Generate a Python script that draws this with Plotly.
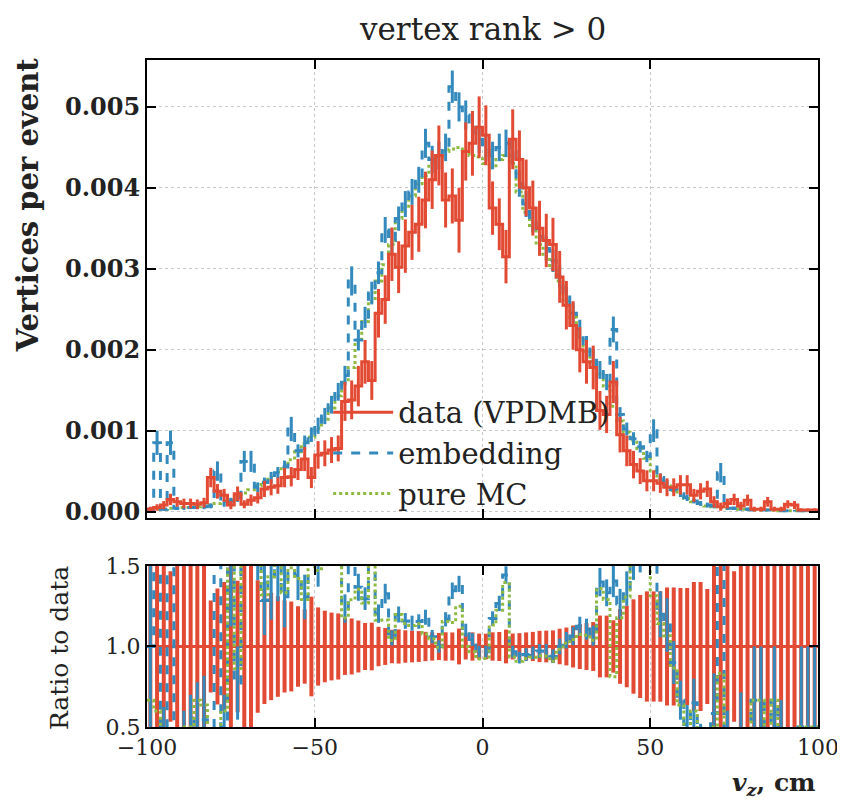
import numpy as np
import plotly.graph_objects as go

# ---------------- data (values in units of 1e-3 vertices per event) ----------------
bin_edges = np.arange(-100, 101, 2)          # v_z bin edges, cm
bin_centers = (bin_edges[:-1] + bin_edges[1:]) / 2

data_vpdmb = [
    0.03, 0.05, 0.08, 0.15, 0.12, 0.10, 0.10, 0.09, 0.11, 0.42,
    0.25, 0.20, 0.08, 0.22, 0.09, 0.14, 0.17, 0.28, 0.30, 0.32,
    0.42, 0.43, 0.52, 0.65, 0.42, 0.70, 0.72, 0.76, 0.78, 1.36,
    1.38, 1.55, 1.85, 1.62, 2.45, 2.62, 3.18, 3.02, 3.28, 3.45,
    3.55, 3.85, 4.10, 4.40, 3.85, 3.90, 3.60, 4.45, 4.55, 4.75,
    4.65, 3.75, 3.55, 3.15, 4.60, 4.35, 4.00, 3.75, 3.50, 3.35,
    3.30, 2.90, 2.55, 2.30, 2.00, 1.85, 1.78, 1.25, 1.20, 1.60,
    0.95, 0.75, 0.58, 0.50, 0.38, 0.38, 0.35, 0.30, 0.30, 0.33,
    0.33, 0.20, 0.25, 0.28, 0.12, 0.06, 0.10, 0.15, 0.07, 0.14,
    0.03, 0.03, 0.12, 0.03, 0.03, 0.09, 0.08, 0.02, 0.02, 0.02,
]
data_err = [
    0.03, 0.04, 0.05, 0.07, 0.06, 0.06, 0.06, 0.06, 0.06, 0.12,
    0.09, 0.08, 0.05, 0.09, 0.05, 0.07, 0.07, 0.10, 0.10, 0.10,
    0.12, 0.12, 0.13, 0.15, 0.13, 0.17, 0.16, 0.16, 0.16, 0.24,
    0.24, 0.25, 0.27, 0.24, 0.30, 0.30, 0.33, 0.32, 0.33, 0.34,
    0.34, 0.35, 0.36, 0.37, 0.34, 0.34, 0.40, 0.36, 0.40, 0.38,
    0.37, 0.33, 0.32, 0.33, 0.37, 0.36, 0.35, 0.34, 0.34, 0.33,
    0.33, 0.32, 0.30, 0.30, 0.28, 0.27, 0.27, 0.24, 0.23, 0.26,
    0.22, 0.19, 0.17, 0.16, 0.13, 0.13, 0.12, 0.11, 0.11, 0.12,
    0.12, 0.08, 0.10, 0.10, 0.07, 0.05, 0.06, 0.07, 0.05, 0.07,
    0.03, 0.03, 0.06, 0.03, 0.03, 0.05, 0.05, 0.02, 0.02, 0.02,
]
embedding = [
    0.03, 0.85, 0.03, 0.85, 0.04, 0.04, 0.05, 0.05, 0.06, 0.07,
    0.50, 0.10, 0.13, 0.17, 0.62, 0.62, 0.30, 0.36, 0.42, 0.48,
    0.55, 1.02, 0.75, 0.85, 0.95, 1.06, 1.18, 1.32, 1.48, 1.68,
    2.85, 2.12, 2.40, 2.70, 2.95, 3.48, 3.35, 3.62, 3.80, 3.95,
    4.10, 4.55, 4.35, 4.40, 4.50, 5.25, 5.00, 4.90, 4.75, 4.60,
    4.50, 4.40, 4.50, 4.55, 4.45, 4.05, 3.80, 3.60, 3.40, 3.25,
    3.10, 2.90, 2.65, 2.45, 2.25, 2.05, 1.90, 1.75, 1.60, 2.25,
    1.20, 1.02, 0.90, 0.80, 0.68, 1.00, 0.42, 0.34, 0.27, 0.22,
    0.17, 0.13, 0.10, 0.08, 0.07, 0.48, 0.04, 0.04, 0.03, 0.03,
    0.02, 0.02, 0.02, 0.02, 0.01, 0.01, 0.01, 0.01, 0.01, 0.01,
]
embedding_err = [
    0.02, 0.15, 0.02, 0.15, 0.02, 0.02, 0.02, 0.02, 0.03, 0.03,
    0.12, 0.04, 0.04, 0.05, 0.13, 0.13, 0.06, 0.06, 0.07, 0.07,
    0.08, 0.15, 0.08, 0.09, 0.09, 0.10, 0.10, 0.11, 0.11, 0.12,
    0.18, 0.13, 0.13, 0.14, 0.14, 0.16, 0.15, 0.15, 0.16, 0.16,
    0.16, 0.18, 0.17, 0.17, 0.17, 0.20, 0.18, 0.18, 0.18, 0.17,
    0.17, 0.17, 0.17, 0.17, 0.17, 0.16, 0.16, 0.15, 0.15, 0.15,
    0.14, 0.14, 0.13, 0.13, 0.12, 0.12, 0.11, 0.11, 0.10, 0.16,
    0.09, 0.08, 0.08, 0.07, 0.07, 0.14, 0.05, 0.05, 0.04, 0.04,
    0.04, 0.03, 0.03, 0.03, 0.03, 0.12, 0.02, 0.02, 0.02, 0.02,
    0.01, 0.01, 0.01, 0.01, 0.01, 0.01, 0.01, 0.01, 0.01, 0.01,
]
pure_mc = [
    0.02, 0.03, 0.03, 0.04, 0.04, 0.05, 0.05, 0.06, 0.07, 0.08,
    0.10, 0.12, 0.15, 0.19, 0.23, 0.27, 0.32, 0.37, 0.43, 0.49,
    0.56, 0.64, 0.74, 0.84, 0.92, 1.03, 1.14, 1.28, 1.43, 1.60,
    1.78, 2.10, 2.35, 2.60, 2.85, 3.05, 3.30, 3.62, 3.75, 3.90,
    4.05, 4.15, 4.30, 4.38, 4.45, 4.48, 4.50, 4.45, 4.40, 4.38,
    4.30, 4.25, 4.35, 4.40, 4.30, 3.95, 3.70, 3.50, 3.30, 3.15,
    3.00, 2.85, 2.60, 2.40, 2.15, 1.98, 1.85, 1.70, 1.55, 1.30,
    1.12, 0.98, 0.88, 0.78, 0.66, 0.50, 0.40, 0.32, 0.26, 0.21,
    0.16, 0.12, 0.09, 0.07, 0.06, 0.05, 0.04, 0.04, 0.03, 0.03,
    0.02, 0.02, 0.02, 0.02, 0.01, 0.01, 0.01, 0.01, 0.01, 0.01,
]

y_ticks = [0.000, 0.001, 0.002, 0.003, 0.004, 0.005]
ratio_ticks = [0.5, 1.0, 1.5]
x_ticks = [-100, -50, 0, 50, 100]

# ---------------- derived ----------------
SCALE = 1e-3
d = np.array(data_vpdmb) * SCALE
de = np.array(data_err) * SCALE
e = np.array(embedding) * SCALE
ee = np.array(embedding_err) * SCALE
m = np.array(pure_mc) * SCALE

r_emb = e / d
r_emb_err = ee / d
r_mc = m / d
r_data_err = de / d

RED = "#E24A33"
BLUE = "#348ABD"
GREEN = "#8EBA42"
FONT = "DejaVu Serif"
TXT = "#222222"


def step_xy(vals):
    return list(bin_edges), list(vals) + [vals[-1]]


fig = go.Figure()

# ---- top panel ----
for vals, errs, col, dash, name, rank in [
    (m, None, GREEN, "dot", "pure MC", 3),
    (e, ee, BLUE, "dash", "embedding", 2),
    (d, de, RED, "solid", "data (VPDMB)", 1),
]:
    sx, sy = step_xy(vals)
    fig.add_trace(go.Scatter(
        x=sx, y=sy, mode="lines", line=dict(color=col, width=3, dash=dash, shape="hv"),
        name=name, legendrank=rank, xaxis="x", yaxis="y"))
    if errs is not None:
        fig.add_trace(go.Scatter(
            x=bin_centers, y=vals, mode="markers",
            marker=dict(size=1, color="rgba(0,0,0,0)"),
            error_y=dict(type="data", array=errs, visible=True, color=col,
                         thickness=3, width=0),
            showlegend=False, xaxis="x", yaxis="y", hoverinfo="skip"))

# ---- ratio panel ----
fig.add_trace(go.Scatter(
    x=bin_centers, y=np.ones_like(d), mode="markers",
    marker=dict(size=1, color="rgba(0,0,0,0)"),
    error_y=dict(type="data", array=r_data_err, visible=True, color=RED,
                 thickness=4, width=0),
    showlegend=False, xaxis="x2", yaxis="y2", hoverinfo="skip"))
sx, sy = step_xy(np.ones_like(d))
fig.add_trace(go.Scatter(x=sx, y=sy, mode="lines",
                         line=dict(color=RED, width=3, shape="hv"),
                         showlegend=False, xaxis="x2", yaxis="y2"))
sx, sy = step_xy(r_emb)
fig.add_trace(go.Scatter(x=sx, y=sy, mode="lines",
                         line=dict(color=BLUE, width=3, dash="dash", shape="hv"),
                         showlegend=False, xaxis="x2", yaxis="y2"))
fig.add_trace(go.Scatter(
    x=bin_centers, y=r_emb, mode="markers",
    marker=dict(size=1, color="rgba(0,0,0,0)"),
    error_y=dict(type="data", array=r_emb_err, visible=True, color=BLUE,
                 thickness=3, width=0),
    showlegend=False, xaxis="x2", yaxis="y2", hoverinfo="skip"))
sx, sy = step_xy(r_mc)
fig.add_trace(go.Scatter(x=sx, y=sy, mode="lines",
                         line=dict(color=GREEN, width=3, dash="dot", shape="hv"),
                         showlegend=False, xaxis="x2", yaxis="y2"))

axis_common = dict(
    showline=True, linecolor="black", linewidth=2, mirror="ticks",
    ticks="inside", ticklen=9, tickwidth=2, tickcolor="black",
    showgrid=True, gridcolor="#c8c8c8", griddash="dot", gridwidth=1,
    zeroline=False,
)

# page body has an 8px margin: figure is shifted by 8px right and down
fig.update_layout(
    width=837, height=792,
    margin=dict(l=139, r=27, t=52, b=73, autoexpand=False),
    plot_bgcolor="white", paper_bgcolor="white",
    font=dict(family=FONT, size=22, color=TXT),
    xaxis=dict(domain=[0, 1], range=[-100, 100], anchor="y", tickvals=x_ticks,
               showticklabels=False, **axis_common),
    yaxis=dict(domain=[0.3133, 1], range=[-0.00008, 0.00558], anchor="x",
               tickvals=y_ticks, tickformat=".3f",
               tickfont=dict(family=FONT, size=24, color=TXT, weight="bold"),
               **axis_common),
    xaxis2=dict(domain=[0, 1], range=[-100, 100], anchor="y2", tickvals=x_ticks,
                tickfont=dict(family=FONT, size=22, color=TXT),
                **axis_common),
    yaxis2=dict(domain=[0, 0.2414], range=[0.5, 1.5], anchor="x2",
                tickvals=ratio_ticks, tickformat=".1f",
                tickfont=dict(family=FONT, size=22, color=TXT),
                **axis_common),
    legend=dict(x=0.27, y=0.51, xanchor="left", yanchor="top",
                bgcolor="rgba(0,0,0,0)", borderwidth=0,
                font=dict(family=FONT, size=29, color=TXT),
                itemwidth=60, tracegroupgap=0),
    showlegend=True,
)

fig.add_annotation(text="vertex rank &gt; 0", xref="paper", yref="paper",
                   x=0.5, y=1.046, xanchor="center", yanchor="middle",
                   showarrow=False, font=dict(family=FONT, size=31, color=TXT))
fig.add_annotation(text="<b><i>v<sub>z</sub></i>, cm</b>", xref="paper", yref="paper",
                   x=1.0, y=-0.085, xanchor="right", yanchor="middle",
                   showarrow=False, font=dict(family=FONT, size=25, color=TXT))
fig.add_annotation(text="<b>Vertices per event</b>", xref="paper", yref="paper",
                   x=-0.178, y=1.005, xanchor="center", yanchor="top", textangle=-90,
                   showarrow=False, font=dict(family=FONT, size=29, color=TXT))
fig.add_annotation(text="Ratio to data", xref="paper", yref="paper",
                   x=-0.13, y=0.118, xanchor="center", yanchor="middle", textangle=-90,
                   showarrow=False, font=dict(family=FONT, size=25, color=TXT))

fig.write_html("out.html")
